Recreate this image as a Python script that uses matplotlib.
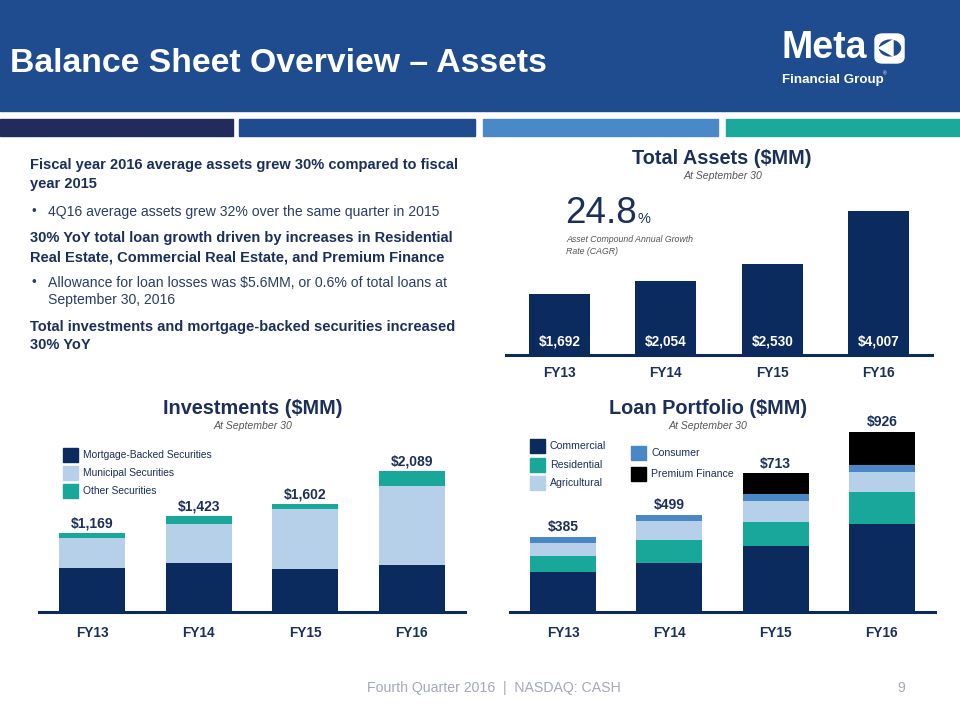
import matplotlib
matplotlib.use("Agg")
import matplotlib.pyplot as plt
from matplotlib.patches import Rectangle, FancyBboxPatch, Circle, Polygon
import numpy as np

# ---- data ----
years = ["FY13", "FY14", "FY15", "FY16"]
total_assets = [1692, 2054, 2530, 4007]

inv_mbs = [651, 725, 636, 696]
inv_muni = [444, 577, 888, 1169]
inv_other = [74, 121, 78, 224]

loan_commercial = [206, 252, 339, 452]
loan_residential = [82, 118, 123, 164]
loan_agricultural = [67, 98, 108, 103]
loan_consumer = [30, 31, 36, 36]
loan_premium = [0, 0, 107, 171]

NAVY = "#0b2b5e"
TEAL = "#19a79a"
LIGHT = "#b6d0e9"
CONSUMER = "#4a87c6"
HEADER = "#1f4c8f"
TXT = "#1b2f5b"
BODY = "#2c3c68"
FONT = "Liberation Sans"

W, H = 960, 720
fig = plt.figure(figsize=(9.6, 7.2), dpi=100)


def fx(x):
    return x / W


def fy(y):
    return 1 - y / H


def px_axes(x0, y0, x1, y1):
    return fig.add_axes([fx(x0), fy(y1), (x1 - x0) / W, (y1 - y0) / H])


def ftext(x, y, s, **kw):
    kw.setdefault("family", FONT)
    kw.setdefault("va", "center")
    fig.text(fx(x), fy(y), s, **kw)


# ---- header ----
fig.patches.append(Rectangle((0, fy(111)), 1, 111 / H, transform=fig.transFigure,
                             color=HEADER, zorder=0))
stripes = [(0, 233, "#222c5c"), (239, 475, HEADER), (483, 718, "#4a89c8"), (726, 960, "#1aa99b")]
for x0, x1, c in stripes:
    fig.patches.append(Rectangle((fx(x0), fy(136)), (x1 - x0) / W, 17 / H,
                                 transform=fig.transFigure, color=c, zorder=0))
ftext(10, 63, "Balance Sheet Overview \u2013 Assets", weight="bold", color="white", size=24.3)

# logo
ftext(781, 48, "Meta", weight="bold", color="white", size=27)
ftext(782, 80, "Financial Group", weight="bold", color="white", size=9.6)
ftext(883, 74, "\u00ae", color="white", size=3.5)
fig.patches.append(FancyBboxPatch((fx(875), fy(63)), 29 / W, 29 / H,
                                  boxstyle="round,pad=0,rounding_size=0.008",
                                  transform=fig.transFigure, color="white", zorder=2))
fig.patches.append(Circle((fx(890), fy(48)), 10.5 / W, transform=fig.transFigure,
                          color=HEADER, zorder=3))
fig.patches.append(Polygon([(fx(879), fy(48)), (fx(893), fy(40)), (fx(893), fy(56))],
                           transform=fig.transFigure, color="white", zorder=4))

# ---- body text ----
BOLD_SZ = 10.5
REG_SZ = 10.1
ftext(30, 165, "Fiscal year 2016 average assets grew 30% compared to fiscal", weight="bold",
      color=TXT, size=BOLD_SZ)
ftext(30, 184, "year 2015", weight="bold", color=TXT, size=BOLD_SZ)
ftext(32, 212, "\u2022", color=BODY, size=9.5)
ftext(48, 212, "4Q16 average assets grew 32% over the same quarter in 2015", color=BODY,
      size=REG_SZ)
ftext(30, 238, "30% YoY total loan growth driven by increases in Residential", weight="bold",
      color=TXT, size=BOLD_SZ)
ftext(30, 257, "Real Estate, Commercial Real Estate, and Premium Finance", weight="bold",
      color=TXT, size=BOLD_SZ)
ftext(32, 283, "\u2022", color=BODY, size=9.5)
ftext(48, 283, "Allowance for loan losses was $5.6MM, or 0.6% of total loans at", color=BODY,
      size=REG_SZ)
ftext(48, 300, "September 30, 2016", color=BODY, size=REG_SZ)
ftext(30, 327, "Total investments and mortgage-backed securities increased", weight="bold",
      color=TXT, size=BOLD_SZ)
ftext(30, 345, "30% YoY", weight="bold", color=TXT, size=BOLD_SZ)


def style_axes(ax, ymax, tick_pad):
    ax.set_xlim(-0.5, 3.5)
    ax.set_ylim(0, ymax)
    for s in ax.spines.values():
        s.set_visible(False)
    ax.set_yticks([])
    ax.set_xticks(range(len(years)))
    ax.set_xticklabels(years, family=FONT, weight="bold", color=TXT, size=9.8)
    ax.tick_params(axis="x", length=0, pad=tick_pad)
    ax.axhline(0, color=NAVY, lw=2.2, clip_on=False, zorder=5)
    ax.patch.set_alpha(0)


# ---- Total assets ----
ax1 = px_axes(506, 200, 932, 355)
x = np.arange(len(years))
ax1.bar(x, total_assets, width=0.57, color=NAVY)
style_axes(ax1, 155 * 27.8, 8)
for i, v in enumerate(total_assets):
    ax1.annotate(f"${v:,}", (i, 0), xytext=(0, 13), textcoords="offset pixels",
                 ha="center", va="center", color="white", weight="bold", family=FONT, size=9.8)
ftext(722, 158, "Total Assets ($MM)", ha="center", weight="bold", color=TXT, size=14.3)
ftext(723, 176, "At September 30", ha="center", style="italic", color="#555555", size=7.6)
ftext(565, 213, "24.8", color=TXT, size=26.5)
ftext(638, 219, "%", color=TXT, size=10.5)
ftext(566, 240, "Asset Compound Annual Growth", style="italic", color="#555555", size=6.3)
ftext(566, 252, "Rate (CAGR)", style="italic", color="#555555", size=6.3)

# ---- Investments ----
ax2 = px_axes(39, 440, 465, 612)
inv_series = [(inv_mbs, NAVY, "Mortgage-Backed Securities"),
              (inv_muni, LIGHT, "Municipal Securities"),
              (inv_other, TEAL, "Other Securities")]
bottom = np.zeros(len(years))
for vals, c, lab in inv_series:
    bars = ax2.bar(x, vals, width=0.62, bottom=bottom, color=c)
    bottom += np.array(vals)
ax2.bar_label(bars, labels=[f"${int(v):,}" for v in bottom], padding=2,
              color=TXT, weight="bold", family=FONT, size=10)
style_axes(ax2, 172 * 14.85, 10)
ftext(253, 409, "Investments ($MM)", ha="center", weight="bold", color=TXT, size=14.3)
ftext(253, 426, "At September 30", ha="center", style="italic", color="#555555", size=7.6)
for k, (vals, c, lab) in enumerate(inv_series):
    y0 = 448 + k * 18
    fig.patches.append(Rectangle((fx(63), fy(y0 + 14)), 15 / W, 14 / H,
                                 transform=fig.transFigure, color=c))
    ftext(83, y0 + 7, lab, color=TXT, size=7.4)

# ---- Loan portfolio ----
ax3 = px_axes(510, 420, 935, 612)
loan_series = [(loan_commercial, NAVY, "Commercial"),
               (loan_residential, TEAL, "Residential"),
               (loan_agricultural, LIGHT, "Agricultural"),
               (loan_consumer, CONSUMER, "Consumer"),
               (loan_premium, "#000000", "Premium Finance")]
bottom = np.zeros(len(years))
for vals, c, lab in loan_series:
    ax3.bar(x, vals, width=0.62, bottom=bottom, color=c)
    bottom += np.array(vals)
for i, v in enumerate(bottom):
    ax3.annotate(f"${int(v):,}", (i, v), xytext=(0, 2), textcoords="offset points",
                 ha="center", va="bottom", color=TXT, weight="bold", family=FONT, size=10)
style_axes(ax3, 192 * 5.14, 10)
ftext(708, 409, "Loan Portfolio ($MM)", ha="center", weight="bold", color=TXT, size=14.3)
ftext(708, 426, "At September 30", ha="center", style="italic", color="#555555", size=7.6)
legend_pos = [(530, 439), (530, 458), (530, 476), (631, 446), (631, 467)]
for (lx, ly), (vals, c, lab) in zip(legend_pos, loan_series):
    fig.patches.append(Rectangle((fx(lx), fy(ly + 14)), 15 / W, 14 / H,
                                 transform=fig.transFigure, color=c))
    ftext(lx + 20, ly + 7, lab, color=TXT, size=7.6)

# ---- footer ----
ftext(367, 688, "Fourth Quarter 2016  |  NASDAQ: CASH", color="#a3a8bb", size=10.2)
ftext(897, 688, "9", color="#a3a8bb", size=10.2)

fig.savefig("out.png", dpi=100)
